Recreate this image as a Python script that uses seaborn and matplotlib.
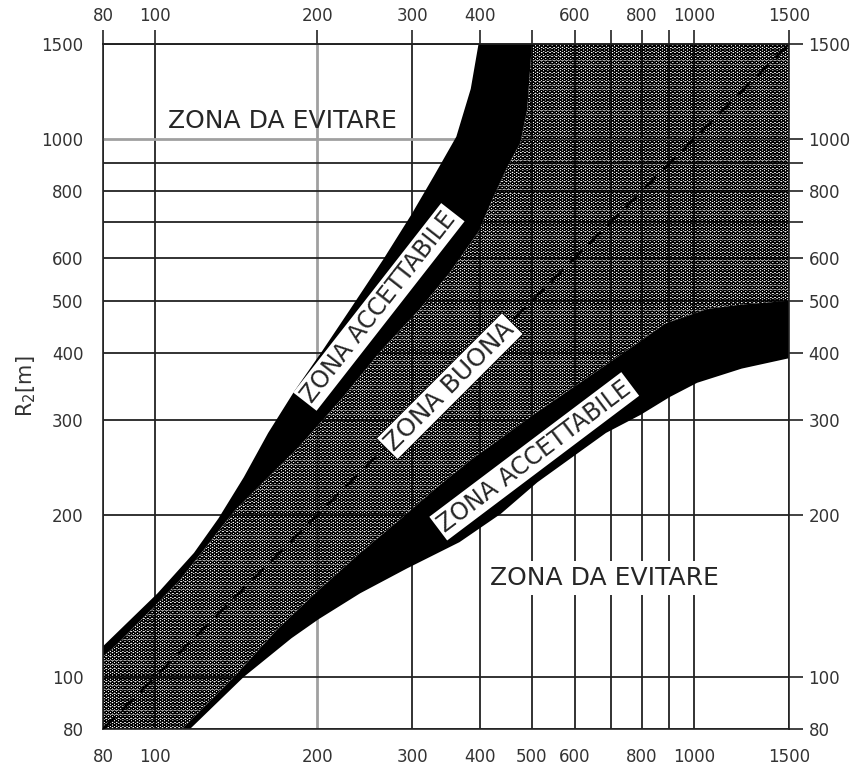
import numpy as np
import pandas as pd
import matplotlib.pyplot as plt
import seaborn as sns
from matplotlib.ticker import FixedLocator, FixedFormatter, NullLocator

# axis range and grid values (same on both axes)
lim = [80, 1500]
grid_vals = [80, 100, 200, 300, 400, 500, 600, 700, 800, 900, 1000, 1500]
bottom_labels = ["80", "100", "200", "300", "400", "500", "600", "", "800", "", "1000", "1500"]
top_labels = ["80", "100", "200", "300", "400", "", "600", "", "800", "", "1000", "1500"]
y_labels = ["80", "100", "200", "300", "400", "500", "600", "", "800", "", "1000", "1500"]

# upper "zona accettabile" band (R1 on x, R2 on y)
upper_outer_x = [80, 101, 118, 131, 146, 162, 181, 204, 229, 265, 299, 329, 362, 385, 398]
upper_outer_y = [114, 143, 170, 197, 235, 284, 339, 403, 479, 597, 724, 853, 1009, 1238, 1500]
upper_inner_x = [80, 85, 111, 140, 185, 222, 262, 310, 352, 398, 426, 451, 476, 490, 500]
upper_inner_y = [109, 115, 151, 203, 268, 329, 403, 483, 564, 672, 787, 890, 983, 1133, 1500]

# lower "zona accettabile" band
lower_upper_x = [112, 140, 169, 201, 240, 286, 333, 385, 512, 686, 796, 881, 1059, 1225, 1500]
lower_upper_y = [80, 100, 123, 145, 170, 197, 225, 253, 311, 380, 421, 453, 483, 492, 500]
lower_lower_x = [116, 146, 179, 201, 240, 293, 367, 438, 512, 686, 796, 900, 1013, 1225, 1500]
lower_lower_y = [80, 100, 118, 128, 143, 159, 178, 201, 230, 284, 307, 331, 352, 374, 391]

# R2 = R1 reference line
diag_vals = [80, 1500]

sns.set_style("white")
plt.rcParams["font.family"] = ["DejaVu Sans"]
plt.rcParams["hatch.linewidth"] = 0.75

fig = plt.figure(figsize=(8.57, 7.67), dpi=100)
ax = fig.add_axes([0.1202, 0.0495, 0.8005, 0.8931])
ax.set_xscale("log")
ax.set_yscale("log")

# good zone (hatched)
good_x = upper_inner_x + [lim[1]] + lower_upper_x[::-1] + [lim[0]]
good_y = upper_inner_y + [lim[1]] + lower_upper_y[::-1] + [lim[0]]
ax.fill(good_x, good_y, facecolor="none", edgecolor="black", hatch="OOOO", linewidth=0, zorder=1)

# acceptable bands
ax.fill(upper_outer_x + upper_inner_x[::-1], upper_outer_y + upper_inner_y[::-1],
        color="black", linewidth=0, zorder=2)
ax.fill(lower_upper_x + lower_lower_x[::-1], lower_upper_y + lower_lower_y[::-1],
        color="black", linewidth=0, zorder=2)

diag = pd.DataFrame({"R1": diag_vals, "R2": diag_vals})
sns.lineplot(data=diag, x="R1", y="R2", ax=ax, color="black", linewidth=2.0, zorder=3)
ax.lines[-1].set_dashes([6, 3.5])

ax.set_xlim(lim)
ax.set_ylim(lim)

for axis, labels in [(ax.xaxis, bottom_labels), (ax.yaxis, y_labels)]:
    axis.set_major_locator(FixedLocator(grid_vals))
    axis.set_major_formatter(FixedFormatter(labels))
    axis.set_minor_locator(NullLocator())

top = ax.secondary_xaxis("top")
top.xaxis.set_major_locator(FixedLocator(grid_vals))
top.xaxis.set_major_formatter(FixedFormatter(top_labels))
top.xaxis.set_minor_locator(NullLocator())

tick_kw = dict(direction="out", length=10, width=1.2, color="#222222",
               labelsize=12, labelcolor="#333333", pad=4)
ax.tick_params(axis="both", **tick_kw)
ax.tick_params(axis="y", right=True, labelright=True)
top.tick_params(axis="x", **tick_kw)

ax.grid(True, color="#222222", linewidth=1.3)
ax.set_axisbelow(True)
ax.xaxis.get_gridlines()[2].set(color="#a0a0a0", linewidth=2)
ax.yaxis.get_gridlines()[10].set(color="#a0a0a0", linewidth=2)
for s in list(ax.spines.values()) + list(top.spines.values()):
    s.set_color("#222222")
    s.set_linewidth(1.2)

ax.set_xlabel("")
ax.set_ylabel("R$_2$[m]", fontsize=15, color="#333333")
ax.yaxis.set_label_coords(-0.095, 0.5)

# zone labels
ax.text(172, 1079, "ZONA DA EVITARE", fontsize=18, ha="center", va="center", zorder=4)
ax.text(683, 153, "ZONA DA EVITARE", fontsize=18, ha="center", va="center", zorder=4,
        bbox=dict(boxstyle="square,pad=0.2", fc="white", ec="none"))
ax.text(260, 487, "ZONA ACCETTABILE", fontsize=17, ha="center", va="center",
        rotation=52, rotation_mode="anchor", zorder=4,
        bbox=dict(boxstyle="square,pad=0.12", fc="white", ec="none"))
ax.text(352, 347, "ZONA BUONA", fontsize=18, ha="center", va="center",
        rotation=45, rotation_mode="anchor", zorder=4,
        bbox=dict(boxstyle="square,pad=0.12", fc="white", ec="black", lw=0.6))
ax.text(505, 257, "ZONA ACCETTABILE", fontsize=17, ha="center", va="center",
        rotation=37, rotation_mode="anchor", zorder=4,
        bbox=dict(boxstyle="square,pad=0.12", fc="white", ec="none"))

fig.savefig("out.png", dpi=100)
